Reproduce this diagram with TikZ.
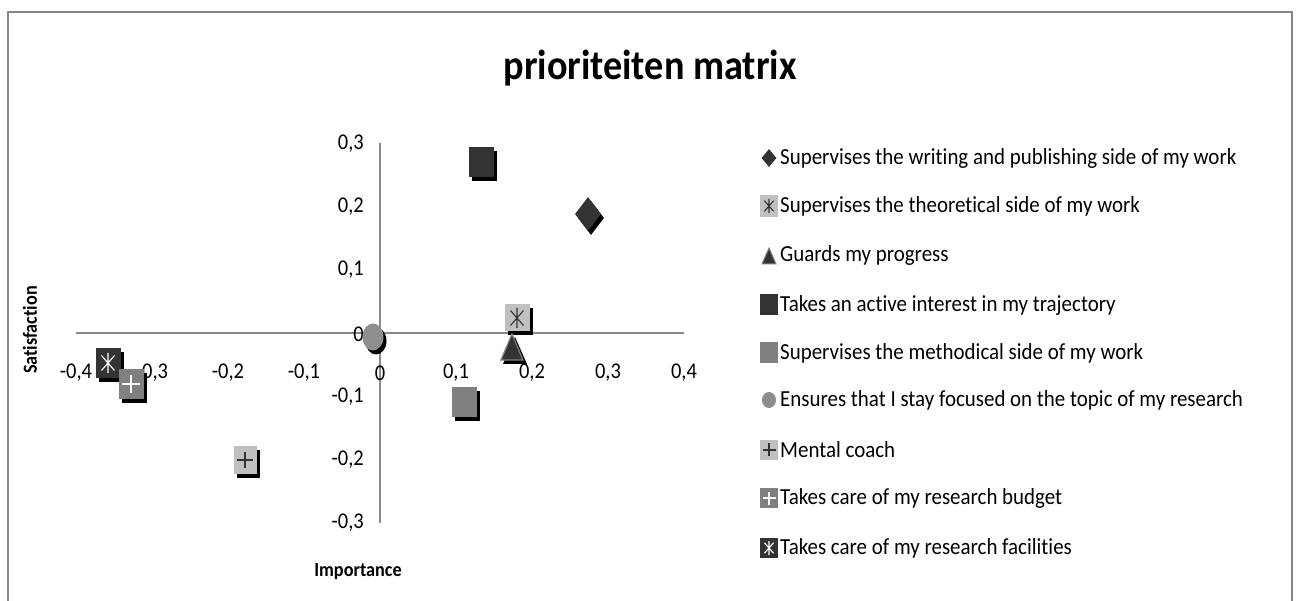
\documentclass[tikz,border=0pt]{standalone}
\usepackage{fontspec}
\setmainfont[FakeStretch=0.91, Ligatures=NoCommon]{Carlito}
\usetikzlibrary{shapes.geometric,shadows}
\definecolor{framegray}{HTML}{868686}
\definecolor{axisgray}{HTML}{8A8A8A}
\definecolor{darkm}{HTML}{333333}
\definecolor{midm}{HTML}{808080}
\definecolor{lightm}{HTML}{C0C0C0}
\definecolor{circm}{HTML}{8E8E8E}
\tikzset{
  shad/.style={drop shadow={shadow xshift=3pt, shadow yshift=-4pt, opacity=1, fill=black}},
  bigsq/.style={rectangle, minimum width=25pt, minimum height=30pt, inner sep=0pt, shad},
  smallsq/.style={rectangle, minimum width=18pt, minimum height=20pt, inner sep=0pt},
  astmark/.style 2 args={path picture={
    \draw[#1, line width=1.1pt]
      ([shift={(0,-#2)}]path picture bounding box.center) -- ([shift={(0,#2)}]path picture bounding box.center)
      ([shift={(-0.65*#2,-0.75*#2)}]path picture bounding box.center) -- ([shift={(0.65*#2,0.75*#2)}]path picture bounding box.center)
      ([shift={(-0.65*#2,0.75*#2)}]path picture bounding box.center) -- ([shift={(0.65*#2,-0.75*#2)}]path picture bounding box.center);}},
  plusmark/.style 2 args={path picture={
    \draw[#1, line width=1.1pt]
      ([shift={(0,-#2)}]path picture bounding box.center) -- ([shift={(0,#2)}]path picture bounding box.center)
      ([shift={(-#2,0)}]path picture bounding box.center) -- ([shift={(#2,0)}]path picture bounding box.center);}},
  tick/.style={font=\fontsize{22.5}{26}\selectfont, inner sep=0pt},
  legtext/.style={font=\fontsize{23}{27}\selectfont, anchor=west, inner sep=0pt},
  axtitle/.style={font=\fontsize{20}{24}\selectfont\bfseries, inner sep=0pt},
}
\begin{document}
\begin{tikzpicture}[x=1pt,y=-1pt]
\useasboundingbox (0,0) rectangle (1299,601);
\fill[white] (0,0) rectangle (1299,601);
% frame
\draw[framegray, line width=2.2pt] (8,601) -- (8,12) -- (1292,12) -- (1292,601);
% title
\node[font=\fontsize{42}{48}\selectfont\bfseries, inner sep=0pt] (title) at (650,68) {prioriteiten matrix};
% axes
\coordinate (xl) at (76,333); \coordinate (xr) at (684,333);
\coordinate (yt) at (380,143); \coordinate (yb) at (380,523);
\draw[axisgray, line width=1.3pt] (xl) -- (xr);
\draw[axisgray, line width=1.3pt] (yt) -- (yb);
% x tick labels
\node[tick] (xa) at (76,373) {-0,4};
\node[tick] (xb) at (152,373) {-0,3};
\node[tick] (xc) at (228,373) {-0,2};
\node[tick] (xd) at (304,373) {-0,1};
\node[tick] (xe) at (380,373) {0};
\node[tick] (xf) at (456,373) {0,1};
\node[tick] (xg) at (532,373) {0,2};
\node[tick] (xh) at (608,373) {0,3};
\node[tick] (xi) at (684,373) {0,4};
% y tick labels
\node[tick, anchor=east] (ya) at (364,144) {0,3};
\node[tick, anchor=east] (yb1) at (364,207) {0,2};
\node[tick, anchor=east] (yc) at (364,270) {0,1};
\node[tick, anchor=east] (yd) at (364,334) {0};
\node[tick, anchor=east] (ye) at (364,397) {-0,1};
\node[tick, anchor=east] (yf) at (364,460) {-0,2};
\node[tick, anchor=east] (yg) at (364,523) {-0,3};
% axis titles
\node[axtitle, rotate=90] (sat) at (30,330) {Satisfaction};
\node[axtitle] (imp) at (358,572) {Importance};
% data markers
\node[diamond, fill=darkm, minimum width=26pt, minimum height=34pt, inner sep=0pt, shad] (p1) at (588,214) {};
\node[bigsq, fill=lightm, minimum height=27pt, astmark={darkm}{10}] (p2) at (517,318) {};
\fill[black] (515,337) -- (503,364) -- (527,364) -- cycle;
\filldraw[fill=darkm, draw=midm, line width=1.2pt] (512,334) -- (501,360) -- (523,360) -- cycle;
\node[bigsq, fill=darkm] (p4) at (481,162) {};
\node[bigsq, fill=midm] (p5) at (464,402) {};
\node[ellipse, fill=circm, minimum width=21pt, minimum height=27pt, inner sep=0pt, shad] (p6) at (373,337) {};
\node[bigsq, fill=lightm, minimum width=23pt, minimum height=28pt, plusmark={darkm}{8}] (p7) at (245,460) {};
\node[bigsq, fill=darkm, astmark={white}{10}] (p9) at (108,363) {};
\node[bigsq, fill=midm, plusmark={white}{9}] (p8) at (131,384) {};
% legend
\def\lx{769}
\node[diamond, fill=darkm, minimum width=15pt, minimum height=18pt, inner sep=0pt] (l1) at (\lx,158) {};
\node[legtext] (t1) at (780,158) {Supervises the writing and publishing side of my work};
\node[smallsq, fill=lightm, minimum height=22pt, astmark={darkm}{7}] (l2) at (\lx,206) {};
\node[legtext] (t2) at (780,206) {Supervises the theoretical side of my work};
\filldraw[fill=darkm, draw=midm, line width=1pt] (769,248) -- (762,264) -- (776,264) -- cycle;
\node[legtext] (t3) at (780,255) {Guards my progress};
\node[smallsq, fill=darkm, minimum height=21pt] (l4) at (\lx,305) {};
\node[legtext] (t4) at (780,305) {Takes an active interest in my trajectory};
\node[smallsq, fill=midm, minimum height=21pt] (l5) at (\lx,353) {};
\node[legtext] (t5) at (780,353) {Supervises the methodical side of my work};
\node[ellipse, fill=circm, minimum width=14pt, minimum height=16pt, inner sep=0pt] (l6) at (\lx,400) {};
\node[legtext] (t6) at (780,400) {Ensures that I stay focused on the topic of my research};
\node[smallsq, fill=lightm, plusmark={darkm}{6.5}] (l7) at (\lx,450) {};
\node[legtext] (t7) at (780,450) {Mental coach};
\node[smallsq, fill=midm, plusmark={white}{6.5}] (l8) at (\lx,498) {};
\node[legtext] (t8) at (780,498) {Takes care of my research budget};
\node[smallsq, fill=darkm, astmark={white}{7}] (l9) at (\lx,548) {};
\node[legtext] (t9) at (780,548) {Takes care of my research facilities};
\end{tikzpicture}
\end{document}
